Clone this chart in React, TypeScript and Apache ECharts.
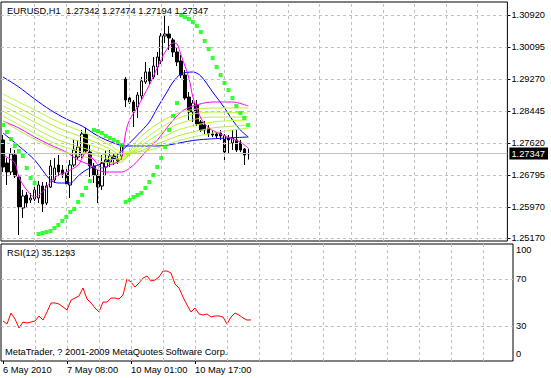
import React, { useEffect, useRef } from 'react';
import * as echarts from 'echarts';

const symbolTitle = 'EURUSD,H1  1.27342 1.27474 1.27194 1.27347';
const rsiTitle = 'RSI(12) 35.1293';
const copyright = 'MetaTrader, ? 2001-2009 MetaQuotes Software Corp.';

const slotCount = 128;
const timeTicks: [number, string][] = [
  [0, '6 May 2010'],
  [16, '7 May 08:00'],
  [32, '10 May 01:00'],
  [48, '10 May 17:00'],
];
const priceTicks = [1.2517, 1.2597, 1.26795, 1.2762, 1.28445, 1.2927, 1.30095, 1.3092];
const priceMin = 1.25094;
const priceMax = 1.31255;
const lastPrice = 1.27347;
const rsiTicks = [0, 30, 70, 100];
const rsiLevels = [30, 70];

const opens = [
  1.27698, 1.27105, 1.26873, 1.27311, 1.26744, 1.25945, 1.2628, 1.26151, 1.26177, 1.26202,
  1.26512, 1.26073, 1.26486, 1.26666, 1.27053, 1.26924, 1.26847, 1.26537, 1.27053, 1.27259,
  1.27337, 1.27852, 1.27388, 1.27027, 1.26795, 1.26512, 1.27001, 1.2713, 1.27285, 1.27208,
  1.27285, 1.2927, 1.2878, 1.28677, 1.28548, 1.28832, 1.29193, 1.29451, 1.29322, 1.29579,
  1.29734, 1.30379, 1.3043, 1.30276, 1.29966, 1.29734, 1.29373, 1.28806, 1.28419, 1.286,
  1.28162, 1.28084, 1.28007, 1.27852, 1.27852, 1.27878, 1.27801, 1.27749, 1.2762, 1.27698,
  1.2762, 1.27466, 1.27342,
];
const closes = [
  1.27001, 1.26873, 1.27337, 1.2677, 1.2597, 1.26254, 1.26073, 1.26202, 1.26409, 1.26537,
  1.26048, 1.26512, 1.27027, 1.26976, 1.26873, 1.26821, 1.26563, 1.27053, 1.2744, 1.27517,
  1.27852, 1.27414, 1.27027, 1.26795, 1.26486, 1.27105, 1.27182, 1.27285, 1.27208, 1.27156,
  1.27543, 1.28729, 1.28677, 1.28419, 1.28858, 1.29219, 1.29451, 1.29219, 1.29605, 1.29837,
  1.30379, 1.3043, 1.30327, 1.29966, 1.29708, 1.29373, 1.2878, 1.28419, 1.28651, 1.2811,
  1.27955, 1.27955, 1.27852, 1.27826, 1.27801, 1.27801, 1.27388, 1.27698, 1.27749, 1.2744,
  1.2744, 1.27311, 1.27347,
];
const lows = [
  1.26873, 1.26537, 1.26795, 1.26718, 1.25248, 1.25687, 1.2597, 1.26073, 1.26125, 1.26073,
  1.25841, 1.26022, 1.2646, 1.26589, 1.2677, 1.26718, 1.26486, 1.26202, 1.27001, 1.27182,
  1.27233, 1.27362, 1.26744, 1.26589, 1.26073, 1.26409, 1.26795, 1.27001, 1.27053, 1.27079,
  1.27182, 1.28548, 1.28626, 1.28033, 1.28265, 1.28729, 1.29141, 1.29141, 1.29244, 1.29373,
  1.29657, 1.30198, 1.30018, 1.29837, 1.29605, 1.29296, 1.28729, 1.28213, 1.28162, 1.28058,
  1.27904, 1.27852, 1.27775, 1.27775, 1.27749, 1.27698, 1.27182, 1.27362, 1.2744, 1.27388,
  1.27388, 1.27053, 1.27194,
];
const highs = [
  1.27826, 1.27233, 1.27491, 1.2744, 1.26795, 1.26409, 1.26357, 1.26331, 1.26537, 1.26641,
  1.26615, 1.26615, 1.27182, 1.27233, 1.27311, 1.27053, 1.26976, 1.27182, 1.27698, 1.27698,
  1.27955, 1.28007, 1.27569, 1.27105, 1.26924, 1.27311, 1.2744, 1.2744, 1.27362, 1.27337,
  1.2762, 1.29322, 1.28858, 1.28729, 1.28935, 1.29322, 1.29708, 1.29554, 1.29837, 1.29966,
  1.30456, 1.30894, 1.30636, 1.30327, 1.30069, 1.29889, 1.29502, 1.28935, 1.28729, 1.28729,
  1.28213, 1.28187, 1.28084, 1.27955, 1.27904, 1.27955, 1.27852, 1.27826, 1.27955, 1.27955,
  1.27698, 1.27491, 1.27474,
];

const slowBlueIdx = [0, 4, 8, 12, 16, 20, 24, 28, 31, 39, 49, 62];
const slowBlue = [1.29322, 1.29064, 1.28754, 1.28471, 1.28239, 1.28058, 1.27801, 1.2762, 1.27543, 1.27543, 1.27698, 1.27775];

const fastBlueIdx = [0, 4, 8, 12, 14, 17, 19, 21, 24, 28, 31, 34, 37, 39, 41, 43, 45, 48, 50, 53, 56, 58, 60, 62];
const fastBlue = [
  1.27878, 1.27543, 1.27182, 1.26666, 1.26589, 1.26589, 1.2677, 1.26924, 1.27053, 1.27233, 1.27517, 1.27826,
  1.28162, 1.28523, 1.28858, 1.29193, 1.29399, 1.29451, 1.29348, 1.28935, 1.28523, 1.28213, 1.27955, 1.27775,
];

const fastMagentaIdx = [0, 3, 4, 6, 8, 10, 12, 14, 16, 19, 21, 23, 25, 27, 29, 30, 31, 32, 34, 37, 39, 41, 43, 44, 45, 47, 48, 50, 52, 55, 58, 60, 62];
const fastMagenta = [
  1.27311, 1.27105, 1.26744, 1.26409, 1.26228, 1.26357, 1.26615, 1.26795, 1.26873, 1.27053,
  1.27362, 1.27182, 1.26976, 1.27053, 1.2713, 1.27233, 1.27878, 1.28213, 1.28548, 1.29114,
  1.29554, 1.29966, 1.30198, 1.30173, 1.29889, 1.29296, 1.28806, 1.28265, 1.28007, 1.27852,
  1.27723, 1.27646, 1.27491,
];

const slowMagentaIdx = [0, 4, 8, 12, 16, 19, 22, 24, 26, 30, 33, 36, 39, 42, 45, 48, 53, 58, 62];
const slowMagenta = [
  1.28187, 1.28007, 1.27775, 1.27569, 1.27388, 1.27182, 1.27053, 1.26924, 1.26873, 1.26873,
  1.27053, 1.27388, 1.27698, 1.28084, 1.28419, 1.28574, 1.28677, 1.28677, 1.28574,
];

const ribbonIdx = [0, 7, 14, 22, 27, 30, 34, 39, 45, 53, 62];
const ribbonA = [1.28883, 1.28523, 1.28162, 1.27826, 1.27569, 1.27388, 1.27388, 1.27491, 1.27698, 1.27878, 1.28007];
const ribbonB = [1.28729, 1.28368, 1.28007, 1.27698, 1.27466, 1.27311, 1.27388, 1.27594, 1.27826, 1.28007, 1.28084];
const ribbonC = [1.28574, 1.28213, 1.27852, 1.27569, 1.27388, 1.27259, 1.2744, 1.27698, 1.27981, 1.28162, 1.28213];
const ribbonD = [1.28445, 1.28058, 1.27698, 1.2744, 1.27285, 1.27208, 1.27491, 1.27826, 1.28136, 1.2829, 1.2829];
const ribbonE = [1.28316, 1.2793, 1.27569, 1.27337, 1.27208, 1.27182, 1.27569, 1.27955, 1.2829, 1.28419, 1.28394];
const ribbonF = [1.28187, 1.27775, 1.2744, 1.27233, 1.27105, 1.2713, 1.27698, 1.2811, 1.28419, 1.28523, 1.28523];

const sar = [
  1.28084, 1.27904, 1.27723, 1.27543, 1.27414, 1.27285, 1.26976, 1.26718, 1.26589,
  1.25274, 1.253, 1.25326, 1.25352, 1.25429, 1.25507, 1.2561, 1.25713, 1.25842, 1.25919, 1.26099, 1.2628, 1.2646, 1.26641,
  1.27955, 1.2793, 1.27878, 1.27801, 1.27749, 1.27698, 1.27646, 1.27569,
  1.26099, 1.26151, 1.26228, 1.2628, 1.26331, 1.2646, 1.26615, 1.26795, 1.27001, 1.27233, 1.27517, 1.27955, 1.28316, 1.28651,
  1.3092, 1.30868, 1.30817, 1.3074, 1.30636, 1.30482, 1.3025, 1.30044, 1.29811, 1.29579, 1.29373, 1.29167, 1.28986, 1.2878,
  1.28574, 1.28394, 1.28265, 1.28084,
];

const rsi = [
  34.2, 31.6, 41.0, 35.9, 28.2, 33.3, 32.5, 33.3, 34.2, 38.5,
  35.0, 41.9, 49.6, 49.6, 48.7, 46.2, 43.6, 52.1, 53.8, 55.6,
  62.4, 53.0, 49.6, 45.3, 41.9, 50.4, 50.4, 53.8, 53.8, 53.0,
  56.4, 70.1, 67.5, 63.2, 66.7, 70.9, 72.6, 68.4, 69.2, 71.8,
  76.9, 76.9, 75.2, 65.8, 62.4, 54.7, 47.9, 41.9, 45.3, 40.2,
  39.3, 40.2, 37.6, 38.5, 38.5, 37.6, 31.6, 37.6, 41.0, 39.3,
  36.8, 35.0, 35.1293,
];

const FONT = "'Liberation Sans', Arial, sans-serif";
const FS = 9.3;
const GRID_COLOR = '#c0c0c0';
const gridStep = 8;

function pairs(idx: number[], vals: number[]) {
  return idx.map((i, k) => [i, vals[k]]);
}

export default function App() {
  const ref = useRef<HTMLDivElement>(null);
  useEffect(() => {
    const chart = echarts.init(ref.current!, null, { renderer: 'svg' });
    const cats = Array.from({ length: slotCount }, (_, i) => String(i));
    const labelMap = new Map<number, string>(timeTicks);
    const verticals: number[] = [];
    for (let i = gridStep; i < slotCount; i += gridStep) verticals.push(i);
    const candles = opens.map((o, i) => [o, closes[i], lows[i], highs[i]]);
    const dashed = { color: GRID_COLOR, type: [3, 3] as any, width: 1 };

    const lineSeries = (name: string, idx: number[], vals: number[], color: string) => ({
      name,
      type: 'line',
      xAxisIndex: 0,
      yAxisIndex: 0,
      data: pairs(idx, vals),
      showSymbol: false,
      symbol: 'none',
      smooth: 0.3,
      silent: true,
      z: 4,
      lineStyle: { color, width: 1 },
    });

    const ribbonColors = ['#adff2f', '#b8e838'];
    const ribbons = [ribbonA, ribbonB, ribbonC, ribbonD, ribbonE, ribbonF];

    chart.setOption({
      animation: false,
      textStyle: { fontFamily: FONT },
      title: [
        { text: symbolTitle, left: 7, top: 5, padding: 0, textStyle: { fontSize: FS, fontWeight: 'normal', color: '#000', fontFamily: FONT, lineHeight: 11 } },
        { text: rsiTitle, left: 7, top: 247, padding: 0, textStyle: { fontSize: FS, fontWeight: 'normal', color: '#000', fontFamily: FONT, lineHeight: 11 } },
        { text: copyright, left: 5, top: 346, padding: 0, textStyle: { fontSize: FS, fontWeight: 'normal', color: '#000', fontFamily: FONT, lineHeight: 11 } },
      ],
      grid: [
        { left: 1, top: 2, width: 512, height: 239, show: true, borderColor: '#000', borderWidth: 1, backgroundColor: 'transparent' },
        { left: 1, top: 244, width: 512, height: 117, show: true, borderColor: '#000', borderWidth: 1, backgroundColor: 'transparent' },
      ],
      xAxis: [
        {
          type: 'category', gridIndex: 0, data: cats, boundaryGap: true,
          axisLine: { show: false }, axisTick: { show: false }, axisLabel: { show: false }, splitLine: { show: false },
        },
        {
          type: 'category', gridIndex: 1, data: cats, boundaryGap: true,
          axisLine: { show: false },
          axisTick: {
            show: true, alignWithLabel: true, length: 3,
            interval: (i: number) => labelMap.has(i),
            lineStyle: { color: '#000' },
          },
          axisLabel: {
            show: true,
            interval: (i: number) => labelMap.has(i),
            formatter: (_v: string, i: number) => labelMap.get(i) || '',
            align: 'left', margin: 4, fontSize: FS, color: '#000', fontFamily: FONT,
          },
          splitLine: { show: false },
        },
      ],
      yAxis: [
        {
          type: 'value', gridIndex: 0, position: 'right', min: priceMin, max: priceMax,
          axisLine: { show: false },
          axisTick: { show: true, length: 3, customValues: priceTicks, lineStyle: { color: '#000' } },
          axisLabel: {
            customValues: priceTicks,
            formatter: (v: number) => v.toFixed(5),
            margin: 4, fontSize: FS, color: '#000', fontFamily: FONT,
          },
          splitLine: { show: false },
        },
        {
          type: 'value', gridIndex: 1, position: 'right', min: 0, max: 100,
          axisLine: { show: false },
          axisTick: { show: false },
          axisLabel: {
            customValues: rsiTicks,
            formatter: (v: number) => (v === 100 ? '{top|100}' : v === 0 ? '{bot|0}' : String(v)),
            margin: 3, fontSize: FS, color: '#000', fontFamily: FONT,
            rich: {
              top: { fontSize: FS, color: '#000', fontFamily: FONT, padding: [12, 0, 0, 0] },
              bot: { fontSize: FS, color: '#000', fontFamily: FONT, padding: [0, 0, 15, 0] },
            },
          },
          splitLine: { show: false },
        },
        {
          type: 'value', gridIndex: 0, position: 'right', min: priceMin, max: priceMax,
          axisLine: { show: false },
          axisTick: { show: false },
          axisLabel: {
            customValues: [lastPrice],
            formatter: (v: number) => v.toFixed(5),
            margin: 2, fontSize: FS, color: '#fff', fontFamily: FONT,
            backgroundColor: '#000', padding: [2, 3, 1, 2],
          },
          splitLine: { show: false },
        },
      ],
      series: [
        {
          name: 'EURUSD',
          type: 'candlestick',
          xAxisIndex: 0,
          yAxisIndex: 0,
          data: candles,
          barWidth: 3,
          silent: true,
          z: 3,
          itemStyle: { color: '#ffffff', color0: '#000000', borderColor: '#000000', borderColor0: '#000000', borderWidth: 1 },
          markLine: {
            silent: true,
            precision: 5,
            symbol: ['none', 'none'],
            animation: false,
            label: { show: false },
            lineStyle: dashed,
            data: [
              ...priceTicks.map((v) => ({ yAxis: v })),
              ...verticals.map((i) => ({ xAxis: i })),
              { yAxis: lastPrice, lineStyle: { color: GRID_COLOR, type: 'solid', width: 1 } },
            ],
          },
        },
        lineSeries('SMA slow', slowBlueIdx, slowBlue, '#0000ff'),
        lineSeries('SMA fast', fastBlueIdx, fastBlue, '#0000ff'),
        lineSeries('MA slow', slowMagentaIdx, slowMagenta, '#ff00ff'),
        ...ribbons.map((r, k) => lineSeries('Ribbon ' + k, ribbonIdx, r, ribbonColors[k % 2])),
        lineSeries('MA fast', fastMagentaIdx, fastMagenta, '#ff00ff'),
        {
          name: 'Parabolic SAR',
          type: 'scatter',
          xAxisIndex: 0,
          yAxisIndex: 0,
          data: sar,
          symbol: 'rect',
          symbolSize: 4,
          silent: true,
          z: 5,
          itemStyle: { color: '#00ff00' },
        },
        {
          name: 'RSI(12)',
          type: 'line',
          xAxisIndex: 1,
          yAxisIndex: 1,
          data: rsi,
          showSymbol: false,
          symbol: 'none',
          silent: true,
          z: 4,
          lineStyle: { color: '#ff0000', width: 1 },
          markLine: {
            silent: true,
            precision: 2,
            symbol: ['none', 'none'],
            animation: false,
            label: { show: false },
            lineStyle: dashed,
            data: [
              ...rsiLevels.map((v) => ({ yAxis: v })),
              ...verticals.map((i) => ({ xAxis: i })),
            ],
          },
        },
      ],
    });
    return () => chart.dispose();
  }, []);
  return <div ref={ref} style={{ position: 'absolute', left: 0, top: 0, width: 551, height: 378, background: '#fff' }} />;
}
